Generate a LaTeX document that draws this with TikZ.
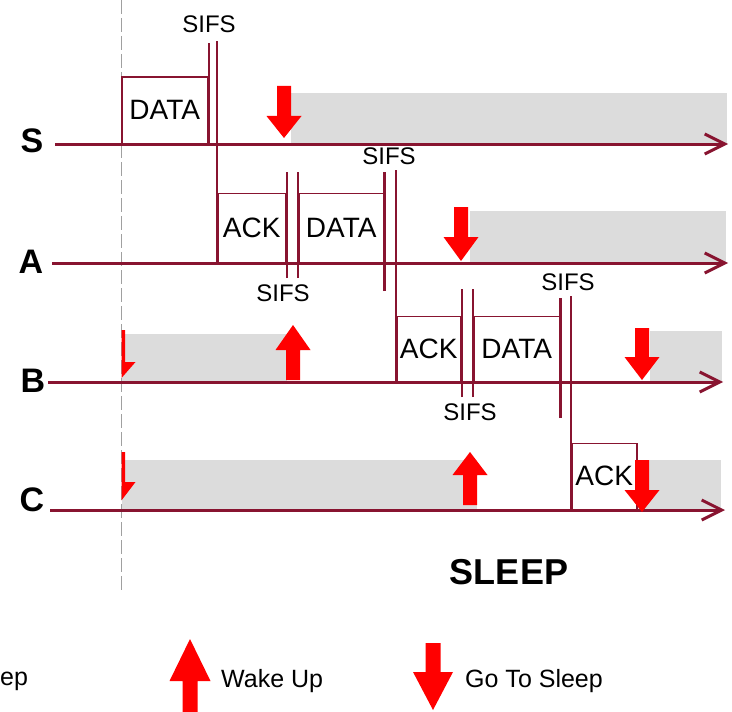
\documentclass[tikz,border=0pt]{standalone}
\usepackage{fontspec}
\setmainfont{Liberation Sans}
\usetikzlibrary{arrows.meta}
\definecolor{lanered}{RGB}{136,20,48}
\definecolor{sleepgray}{RGB}{220,220,220}
\definecolor{guidegray}{RGB}{160,160,160}

\begin{document}
\begin{tikzpicture}[x=1bp,y=-1bp,
  lane/.style={draw=lanered,line width=3bp,-{Straight Barb[length=20bp,width=20bp]}},
  sifs/.style={draw=lanered,line width=2bp},
  sifsthick/.style={draw=lanered,line width=2.6bp},
  sleepzone/.style={fill=sleepgray},
  guide/.style={draw=guidegray,line width=0.8bp,dash pattern=on 14bp off 4bp},
  lanelabel/.style={font=\fontsize{34bp}{34bp}\selectfont\bfseries,inner sep=0},
  pktbox/.style={draw=lanered,line width=1.5bp,inner sep=0,anchor=south west,
    font=\fontsize{28bp}{28bp}\selectfont},
  sifstext/.style={font=\fontsize{24bp}{24bp}\selectfont,inner sep=0},
  legendtext/.style={font=\fontsize{25bp}{25bp}\selectfont,inner sep=0,anchor=west},
  titletext/.style={font=\fontsize{36bp}{36bp}\selectfont\bfseries,inner sep=0},
  % red arrow with its tip at the pic origin: total length, head length, half head width, half shaft width
  pics/gosleep/.style n args={4}{code={
    \fill[red] (0,0) -- (-#3,-#2) -- (-#4,-#2) -- (-#4,-#1) -- (#4,-#1) -- (#4,-#2) -- (#3,-#2) -- cycle;}},
  pics/wakeup/.style n args={4}{code={
    \fill[red] (0,0) -- (-#3,#2) -- (-#4,#2) -- (-#4,#1) -- (#4,#1) -- (#4,#2) -- (#3,#2) -- cycle;}},
]
\useasboundingbox (0,0) rectangle (732,712);

% sleep periods
\fill[sleepzone] (291,93) rectangle (727,143);
\fill[sleepzone] (470,211) rectangle (726,262);
\fill[sleepzone] (122,334) rectangle (287,382);
\fill[sleepzone] (650,331) rectangle (722,382);
\fill[sleepzone] (122,460) rectangle (477,510);
\fill[sleepzone] (637,460) rectangle (721,510);

% time origin
\draw[guide] (121.5,0) -- (121.5,592);

% node labels and time lines
\node[lanelabel] (S) at (32,141) {S};
\node[lanelabel] (A) at (31,262) {A};
\node[lanelabel] (B) at (33,381) {B};
\node[lanelabel] (C) at (32,500) {C};
\coordinate (S0) at (55,144);  \coordinate (S1) at (728,144);
\coordinate (A0) at (52,263);  \coordinate (A1) at (728,263);
\coordinate (B0) at (48,382);  \coordinate (B1) at (723,382);
\coordinate (C0) at (50,510);  \coordinate (C1) at (725,510);

% frames
\node[pktbox,minimum width=86bp,minimum height=66bp] (dataS) at (121,144) {DATA};
\node[pktbox,minimum width=68bp,minimum height=69bp] (ackA) at (217,263) {ACK};
\node[pktbox,minimum width=85bp,minimum height=69bp] (dataA) at (298,263) {DATA};
\node[pktbox,minimum width=64bp,minimum height=65bp] (ackB) at (396,382) {ACK};
\node[pktbox,minimum width=86bp,minimum height=65bp] (dataB) at (473,382) {DATA};
\node[pktbox,minimum width=65bp,minimum height=66bp] (ackC) at (571,510) {ACK};

% SIFS gaps
\draw[sifs] (dataS.south east) -- ++(0,-101);
\draw[sifs] (ackA.south west) -- ++(0,-222);
\draw[sifs] (ackA.south east) ++(0,15) -- ++(0,-106);
\draw[sifs] (dataA.south west) ++(0,15) -- ++(0,-106);
\draw[sifsthick] (dataA.south east) ++(0,28) -- ++(0,-119);
\draw[sifs] (ackB.south west) -- ++(0,-212);
\draw[sifs] (ackB.south east) ++(0,15) -- ++(0,-108);
\draw[sifs] (dataB.south west) ++(0,15) -- ++(0,-108);
\draw[sifsthick] (dataB.south east) ++(0,36) -- ++(0,-120);
\draw[sifs] (ackC.south west) -- ++(0,-214);

\node[sifstext] (sifs1) at (209,24) {SIFS};
\node[sifstext] (sifs2) at (283,293) {SIFS};
\node[sifstext] (sifs3) at (389,156) {SIFS};
\node[sifstext] (sifs4) at (470,412) {SIFS};
\node[sifstext] (sifs5) at (568,282) {SIFS};

\draw[lane] (S0) -- (S1);
\draw[lane] (A0) -- (A1);
\draw[lane] (B0) -- (B1);
\draw[lane] (C0) -- (C1);

% radio state changes
\pic (sleepS) at (284,138) {gosleep={52}{22}{17.5}{7}};
\pic (sleepA) at (461,261) {gosleep={54}{24}{17.5}{7}};
\pic (sleepB) at (642,380) {gosleep={52}{23}{17.5}{7}};
\pic (sleepC) at (642,512) {gosleep={52}{22}{17.5}{7}};
\pic (wakeB) at (293,325) {wakeup={55}{25}{17.5}{7}};
\pic (wakeC) at (470,452) {wakeup={53}{23}{17.5}{7}};
\begin{scope}
  \clip (121.5,300) rectangle (200,530);
  \pic (sleepB0) at (118,382) {gosleep={52}{20}{17.5}{7}};
  \pic (sleepC0) at (118,505) {gosleep={53}{23}{17.5}{7}};
\end{scope}

\node[titletext] (sleep) at (509,572) {SLEEP};

% legend
\node[legendtext] (legsleep) at (0,681) {ep};
\pic (legwake) at (190,639) {wakeup={80}{42}{20.5}{7.5}};
\node[legendtext] (legwaketext) at (221,681) {Wake Up};
\pic (leggo) at (433,710) {gosleep={67}{38}{20}{7.5}};
\node[legendtext] (leggotext) at (465,681) {Go To Sleep};
\end{tikzpicture}
\end{document}
